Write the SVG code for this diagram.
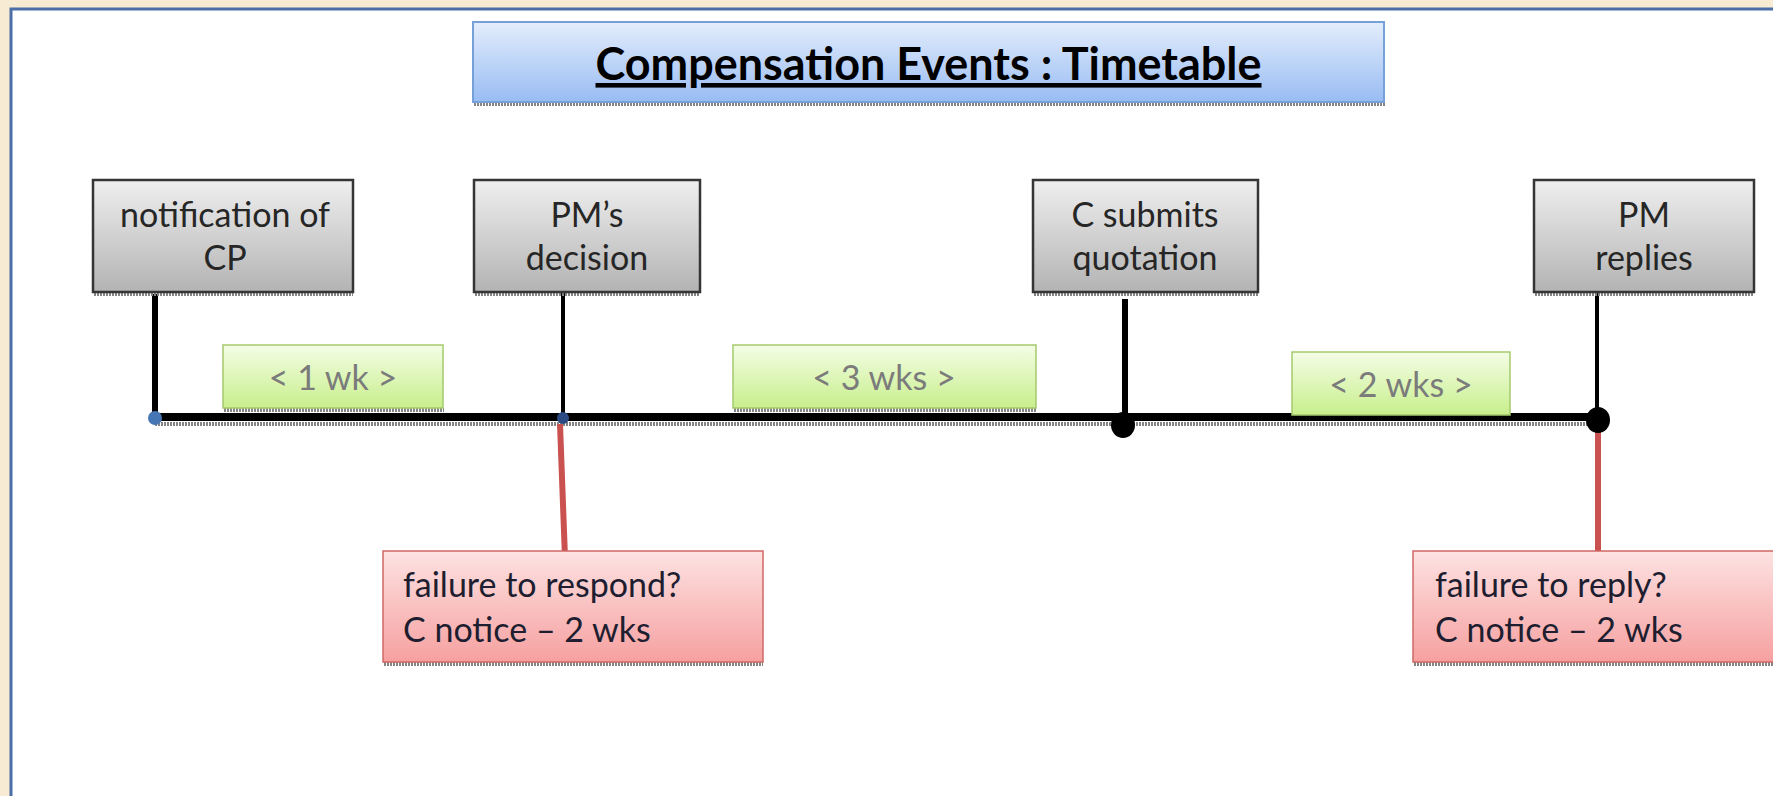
<svg xmlns="http://www.w3.org/2000/svg" width="1773" height="796" viewBox="0 0 1773 796">
<defs>
<linearGradient id="gTitle" x1="0" y1="0" x2="0" y2="1"><stop offset="0" stop-color="#e4edfc"/><stop offset="1" stop-color="#98bcf3"/></linearGradient>
<linearGradient id="gGray" x1="0" y1="0" x2="0" y2="1"><stop offset="0" stop-color="#efefef"/><stop offset="1" stop-color="#b3b3b3"/></linearGradient>
<linearGradient id="gGreen" x1="0" y1="0" x2="0" y2="1"><stop offset="0" stop-color="#f4fde6"/><stop offset="1" stop-color="#c8ef8c"/></linearGradient>
<linearGradient id="gRed" x1="0" y1="0" x2="0" y2="1"><stop offset="0" stop-color="#fde2e2"/><stop offset="1" stop-color="#f6a0a0"/></linearGradient>
<style>
.txt{font-family:Lato,"Open Sans","Liberation Sans",sans-serif;font-size:34px}
.gray rect.box{fill:url(#gGray);stroke:#353535;stroke-width:2.5}
.green rect.box{fill:url(#gGreen);stroke:#a5c96c;stroke-width:1.5}
.red rect.box{fill:url(#gRed);stroke:#d06866;stroke-width:1.5}
.gray text{fill:#262626;text-anchor:middle}
.green text{fill:#7b7b7b;text-anchor:middle}
.red text{fill:#1e1e30}
.shadow{stroke:#858585;stroke-width:4;stroke-dasharray:2 1;fill:none}
.blk{stroke:#000;fill:none}
.redline{stroke:#c9514f;stroke-width:6;fill:none}
</style>
</defs>
<rect x="0" y="0" width="1773" height="796" fill="#f7ebd3"/>
<rect x="11" y="9" width="1800" height="830" fill="#ffffff" stroke="#4b6fa6" stroke-width="3"/>

<g id="title">
<line class="shadow" x1="474" y1="104" x2="1385" y2="104"/>
<rect x="473" y="22" width="911" height="80" fill="url(#gTitle)" stroke="#76a0d8" stroke-width="2"/>
<text x="928.5" y="80" text-anchor="middle" font-family="Lato,'Open Sans','Liberation Sans',sans-serif" font-size="46" font-weight="bold" fill="#000" text-decoration="underline" textLength="666" lengthAdjust="spacingAndGlyphs">Compensation Events : Timetable</text>
</g>

<g id="connectors">
<line class="shadow" x1="155" y1="424" x2="1598" y2="424" stroke-width="3"/>
<line class="blk" x1="155" y1="417" x2="1598" y2="417" stroke-width="8"/>
<line class="blk" x1="155" y1="294" x2="155" y2="417" stroke-width="6"/>
<line class="blk" x1="563" y1="292" x2="563" y2="417" stroke-width="4"/>
<line class="blk" x1="1125" y1="299" x2="1125" y2="425" stroke-width="6"/>
<line class="blk" x1="1597" y1="292" x2="1597" y2="420" stroke-width="4"/>
<line class="redline" x1="560" y1="424" x2="565" y2="558"/>
<line class="redline" x1="1598" y1="428" x2="1598" y2="552"/>
<circle cx="155" cy="418" r="7" fill="#4676b4"/>
<circle cx="563" cy="418" r="6" fill="#2b4b82"/>
<ellipse cx="1123" cy="425" rx="12" ry="13" fill="#000"/>
<ellipse cx="1598" cy="420" rx="12" ry="13" fill="#000"/>
</g>

<g id="node-notification" class="gray txt">
<line class="shadow" x1="94" y1="294" x2="353" y2="294"/>
<rect class="box" x="93" y="180" width="260" height="112"/>
<text x="225" y="227">notification of</text>
<text x="225" y="270">CP</text>
</g>
<g id="node-pm-decision" class="gray txt">
<line class="shadow" x1="475" y1="294" x2="700" y2="294"/>
<rect class="box" x="474" y="180" width="226" height="112"/>
<text x="587" y="227">PM’s</text>
<text x="587" y="270">decision</text>
</g>
<g id="node-c-submits" class="gray txt">
<line class="shadow" x1="1034" y1="294" x2="1258" y2="294"/>
<rect class="box" x="1033" y="180" width="225" height="112"/>
<text x="1145" y="227">C submits</text>
<text x="1145" y="270">quotation</text>
</g>
<g id="node-pm-replies" class="gray txt">
<line class="shadow" x1="1535" y1="294" x2="1754" y2="294"/>
<rect class="box" x="1534" y="180" width="220" height="112"/>
<text x="1644" y="227">PM</text>
<text x="1644" y="270">replies</text>
</g>

<g id="node-1wk" class="green txt">
<line class="shadow" x1="224" y1="410" x2="444" y2="410" stroke-width="3"/>
<rect class="box" x="223" y="345" width="220" height="63"/>
<text x="333" y="390">&lt; 1 wk &gt;</text>
</g>
<g id="node-3wks" class="green txt">
<line class="shadow" x1="734" y1="410" x2="1036" y2="410" stroke-width="3"/>
<rect class="box" x="733" y="345" width="303" height="63"/>
<text x="884" y="390">&lt; 3 wks &gt;</text>
</g>
<g id="node-2wks" class="green txt">
<rect class="box" x="1292" y="352" width="218" height="63"/>
<text x="1401" y="397">&lt; 2 wks &gt;</text>
</g>

<g id="node-failure-respond" class="red txt">
<line class="shadow" x1="384" y1="664" x2="763" y2="664" stroke-width="3"/>
<rect class="box" x="383" y="551" width="380" height="111"/>
<text x="403" y="597">failure to respond?</text>
<text x="403" y="642">C notice – 2 wks</text>
</g>
<g id="node-failure-reply" class="red txt">
<line class="shadow" x1="1414" y1="664" x2="1773" y2="664" stroke-width="3"/>
<rect class="box" x="1413" y="551" width="400" height="111"/>
<text x="1435" y="597">failure to reply?</text>
<text x="1435" y="642">C notice – 2 wks</text>
</g>
</svg>
